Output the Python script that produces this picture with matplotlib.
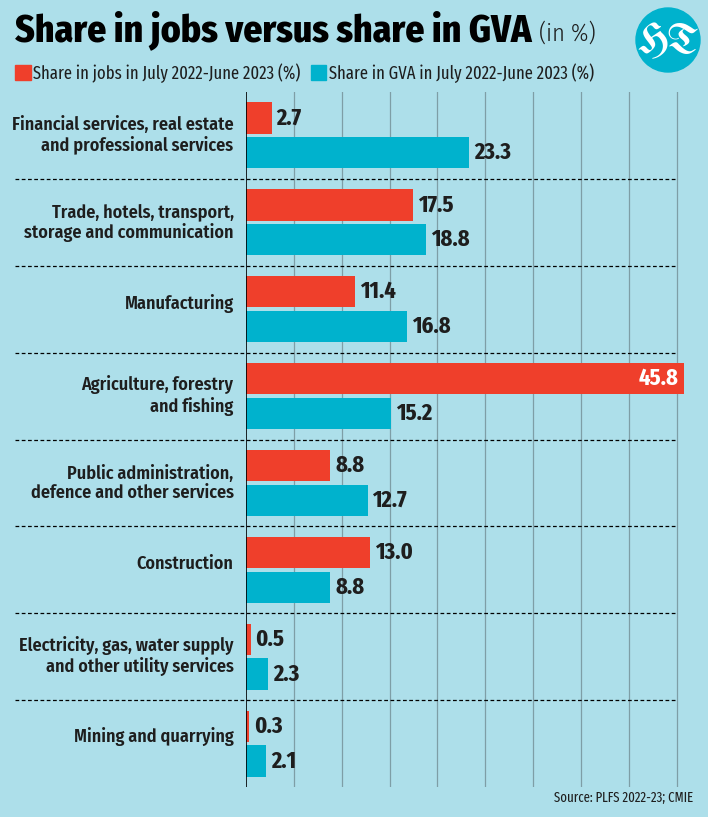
import matplotlib
matplotlib.use('Agg')
import matplotlib.pyplot as plt
from matplotlib.patches import Circle, Rectangle

categories = [
    'Financial services, real estate\nand professional services',
    'Trade, hotels, transport,\nstorage and communication',
    'Manufacturing',
    'Agriculture, forestry\nand fishing',
    'Public administration,\ndefence and other services',
    'Construction',
    'Electricity, gas, water supply\nand other utility services',
    'Mining and quarrying',
]
jobs_share = [2.7, 17.5, 11.4, 45.8, 8.8, 13.0, 0.5, 0.3]
gva_share = [23.3, 18.8, 16.8, 15.2, 12.7, 8.8, 2.3, 2.1]
legend_labels = ['Share in jobs in July 2022-June 2023 (%)',
                 'Share in GVA in July 2022-June 2023 (%)']
grid_ticks = [5, 10, 15, 20, 25, 30, 35, 40, 45]

BG = '#ADDFEA'
RED = '#EF3F2B'
BLUE = '#00B2CD'
INK = '#1E1E1E'
COND = ['Fira Sans Condensed', 'DejaVu Sans']
XCOND = ['Fira Sans Extra Condensed', 'DejaVu Sans']

W, H = 708, 817


def fx(px):
    return px / W


def fy(py):
    return 1 - py / H


def main():
    fig = plt.figure(figsize=(W / 100, H / 100), dpi=100, facecolor=BG)
    ax = fig.add_axes([fx(246), fy(787), fx(700) - fx(246), fy(92) - fy(787)])
    ax.set_facecolor(BG)
    ax.set_xlim(0, 47.44)
    ax.set_ylim(7.5, -0.5)
    for s in ax.spines.values():
        s.set_visible(False)
    ax.set_xticks([])
    ax.set_yticks([])

    for t in grid_ticks:
        ax.axvline(t, color='#7E9EA6', lw=0.9, zorder=0)
    ax.axvline(0, color='black', lw=1.2, zorder=3)

    n = len(categories)
    ys = list(range(n))
    h = 0.36
    ax.barh([y - 0.2 for y in ys], jobs_share, height=h, color=RED, zorder=2)
    ax.barh([y + 0.2 for y in ys], gva_share, height=h, color=BLUE, zorder=2)

    for y in ys[:-1]:
        ax.plot([-24.1, 45], [y + 0.5, y + 0.5], color='black', lw=0.9,
                ls=(0, (3, 2)), clip_on=False, zorder=1)

    for y, lab in zip(ys, categories):
        ty = y if '\n' in lab else y - 0.07
        ax.text(-1.3, ty, lab, ha='right', va='center', fontsize=13,
                family=COND, fontweight=600, color=INK, linespacing=1.12)

    for y, v in zip(ys, jobs_share):
        if v > 40:
            ax.text(v - 0.6, y - 0.2, f'{v:.1f}', ha='right', va='center',
                    fontsize=17.5, family=XCOND, fontweight='bold', color='white')
        else:
            ax.text(v + 0.5, y - 0.2, f'{v:.1f}', ha='left', va='center',
                    fontsize=17.5, family=XCOND, fontweight='bold', color=INK)
    for y, v in zip(ys, gva_share):
        ax.text(v + 0.5, y + 0.2, f'{v:.1f}', ha='left', va='center',
                fontsize=17.5, family=XCOND, fontweight='bold', color=INK)

    # title
    t = fig.text(fx(15), fy(41), 'Share in jobs versus share in GVA', fontsize=27,
                 family=COND, fontweight=800, color='black', va='baseline')
    fig.canvas.draw()
    bb = t.get_window_extent()
    fig.text(bb.x1 / W + fx(7), fy(41), '(in %)', fontsize=17.5, family=COND,
             fontweight=300, color=INK, va='baseline')

    # legend
    fig.patches.append(Rectangle((fx(15), fy(80)), fx(16), fy(65) - fy(80),
                                 transform=fig.transFigure, color=RED))
    fig.text(fx(33), fy(73), legend_labels[0], fontsize=13, family=XCOND,
             color=INK, va='center')
    fig.patches.append(Rectangle((fx(311), fy(80)), fx(15), fy(65) - fy(80),
                                 transform=fig.transFigure, color=BLUE))
    fig.text(fx(329), fy(73), legend_labels[1], fontsize=13, family=XCOND,
             color=INK, va='center')

    # logo
    logo = Circle((668 / 100, (H - 40) / 100), 0.32, transform=fig.dpi_scale_trans,
                  color=BLUE)
    fig.patches.append(logo)
    fig.text(fx(668), fy(41), 'HT', fontsize=30,
             family=['UnifrakturMaguntia', 'UnifrakturCook', 'DejaVu Serif'],
             fontweight='bold', color='white', ha='center', va='center')

    fig.text(fx(693), fy(798), 'Source: PLFS 2022-23; CMIE', fontsize=10,
             family=XCOND, color=INK, ha='right', va='center')

    fig.savefig('out.png', dpi=100, facecolor=BG)


if __name__ == '__main__':
    main()
